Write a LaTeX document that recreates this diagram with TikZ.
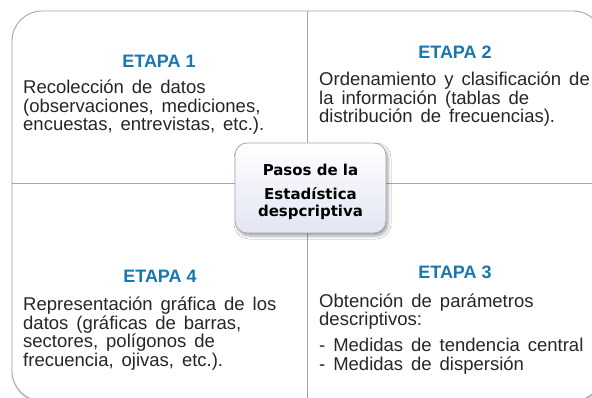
\documentclass[tikz,border=0pt]{standalone}
\usepackage{fontspec}
\setmainfont{Liberation Sans}
\newfontfamily\pasosfont{DejaVu Sans}
\usepackage{tikz}
\usetikzlibrary{shadows.blur}
\usepackage{xcolor}

\definecolor{etapablue}{RGB}{24,118,176}
\definecolor{framegray}{RGB}{165,165,174}
\definecolor{bodygray}{RGB}{38,38,38}
\definecolor{pasosbottom}{RGB}{226,229,243}

\newcommand{\etapafont}{\fontsize{18.5}{18.5}\selectfont\spaceskip=0.43em\relax}

\begin{document}
\begin{tikzpicture}[
    x=1pt, y=-1pt,
    frame/.style={draw=framegray, line width=0.9pt},
    heading/.style={anchor=base, inner sep=0pt, text=etapablue, font=\fontsize{18}{18}\selectfont\bfseries},
    % multi-line nodes: base is the baseline of the last line
    body/.style={anchor=base west, inner sep=0pt, align=left, text=bodygray, font=\etapafont},
    pasos/.style={rectangle, rounded corners=12pt, draw=framegray, line width=0.8pt, top color=white, bottom color=pasosbottom,
        minimum width=151pt, minimum height=90pt, align=center, font=\pasosfont\bfseries\fontsize{15}{16.5}\selectfont,
        blur shadow={shadow xshift=2pt, shadow yshift=-3pt, shadow blur radius=3pt, shadow opacity=35}}
]
\clip (0,0) rectangle (592,398);
% frame and the four steps
\draw[frame, fill=white, rounded corners=30pt, blur shadow={shadow xshift=1pt, shadow yshift=-1.5pt, shadow blur radius=2pt, shadow opacity=30}] (12,11) rectangle (603,401);
\draw[frame] (307,11) -- (307,401);
\draw[frame] (12,183) -- (603,183);

\node[heading] (etapa1) at (159,68)  {ETAPA 1};
\node[heading] (etapa2) at (455,59)  {ETAPA 2};
\node[heading] (etapa3) at (455,279) {ETAPA 3};
\node[heading] (etapa4) at (160,283) {ETAPA 4};

\node[body] (paso1) at (23,131)  {Recolección de datos\\(observaciones, mediciones,\\encuestas, entrevistas, etc.).};
\node[body] (paso2) at (319,123) {Ordenamiento y clasificación de\\la información (tablas de\\distribución de frecuencias).};
\node[body] (paso3) at (319,370) {Obtención de parámetros\\descriptivos:\\[7.5pt]- Medidas de tendencia central\\- Medidas de dispersión};
\node[body] (paso4) at (23,366) {Representación gráfica de los\\datos (gráficas de barras,\\sectores, polígonos de\\frecuencia, ojivas, etc.).};

% centre box
\node[pasos] (centro) at (310.5,188) {\rule{0pt}{19pt}Pasos de la\\[8pt]Estadística\\despcriptiva};
\end{tikzpicture}
\end{document}
